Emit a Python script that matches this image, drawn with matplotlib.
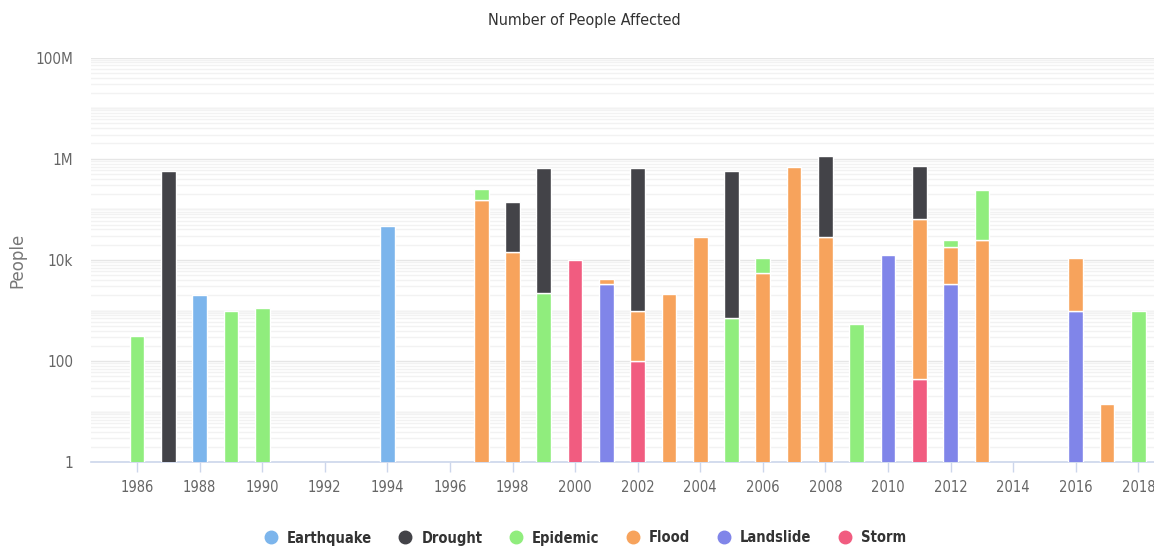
import numpy as np
import matplotlib
matplotlib.use("Agg")
import matplotlib.pyplot as plt
from matplotlib.ticker import LogLocator, FixedLocator, NullFormatter
from matplotlib.lines import Line2D

plt.rcParams['font.family'] = ['DejaVu Sans']
plt.rcParams['font.stretch'] = 'condensed'

years = list(range(1986, 2019))

# people affected per year and disaster type (missing year = none)
earthquake = {1988: 2025, 1994: 47000}
drought = {1987: 572000, 1998: 127000, 1999: 666000, 2002: 667000,
           2005: 571000, 2008: 1080000, 2011: 646000}
epidemic = {1986: 314, 1989: 960, 1990: 1100, 1997: 104000, 1999: 2220,
            2005: 716, 2006: 5240, 2009: 529, 2012: 6100, 2013: 212000,
            2018: 960}
flood = {1997: 152000, 1998: 14300, 2001: 860, 2002: 870, 2003: 2150,
         2004: 27900, 2006: 5620, 2007: 700000, 2008: 27900, 2011: 63500,
         2012: 14850, 2013: 24300, 2016: 9890, 2017: 14}
landslide = {2001: 3350, 2010: 12450, 2012: 3350, 2016: 973}
storm = {2000: 10000, 2002: 100, 2011: 44}

# listed top to bottom of each stack
series = [
    ("Earthquake", earthquake, "#7cb5ec"),
    ("Drought", drought, "#434348"),
    ("Epidemic", epidemic, "#90ed7d"),
    ("Flood", flood, "#f7a35c"),
    ("Landslide", landslide, "#8085e9"),
    ("Storm", storm, "#f15c80"),
]

fig = plt.figure(figsize=(11.54, 5.46), dpi=100)
ax = fig.add_axes([91 / 1154, 1 - 462.3 / 546, 1 - 91 / 1154, (462.3 - 57.5) / 546])

x = np.array(years)
bottom = np.zeros(len(years))
for name, data, color in reversed(series):
    vals = np.array([data.get(y, 0) for y in years], dtype=float)
    mask = vals > 0
    ax.bar(x[mask], vals[mask], bottom=bottom[mask], width=0.47, color=color,
           edgecolor="white", linewidth=1, zorder=3)
    bottom += vals

ax.set_yscale("log")
ax.set_ylim(1, 1e8)
ax.set_xlim(1984.53, 2018.5)

ax.yaxis.set_major_locator(FixedLocator([1, 1e2, 1e4, 1e6, 1e8]))
ax.set_yticklabels(["1", "100", "10k", "1M", "100M"])
ax.yaxis.set_minor_locator(LogLocator(base=10, subs=np.arange(1, 10), numticks=100))
ax.yaxis.set_minor_formatter(NullFormatter())
for dec in range(0, 9):
    ax.axhline(10 ** dec, color="#e6e6e6", linewidth=1, zorder=1)
ax.grid(True, which="minor", axis="y", color="#f2f2f2", linewidth=1, zorder=0)
ax.tick_params(axis="y", which="both", length=0, labelsize=11, colors="#666666", pad=13)

ax.set_xticks(range(1986, 2019, 2))
ax.tick_params(axis="x", which="major", length=7.5, width=1, color="#ccd6eb",
               labelsize=10.5, labelcolor="#666666", pad=5)
ax.tick_params(axis="x", which="minor", length=0)

for side in ["top", "right", "left"]:
    ax.spines[side].set_visible(False)
ax.spines["bottom"].set_color("#ccd6eb")
ax.spines["bottom"].set_linewidth(1.2)

fig.text(17 / 1154, 1 - 260 / 546, "People", rotation=90, ha="center", va="center",
         color="#777777", fontsize=12, fontstretch="normal")
fig.text(584 / 1154, 1 - 21 / 546, "Number of People Affected", ha="center", va="center",
         fontsize=11.5, color="#333333")

handles = [Line2D([0], [0], marker="o", linestyle="none", markersize=9,
                  markerfacecolor=c, markeredgecolor=c) for _, _, c in series]
leg = fig.legend(handles, [n for n, _, _ in series], loc="center",
                 bbox_to_anchor=(585.5 / 1154, 8 / 546), ncol=6, frameon=False,
                 handlelength=0.8, handletextpad=0.7, columnspacing=1.9,
                 prop={"size": 10.5, "weight": "bold", "stretch": "condensed"})
for t in leg.get_texts():
    t.set_color("#333333")

fig.savefig("out.png", dpi=100)
